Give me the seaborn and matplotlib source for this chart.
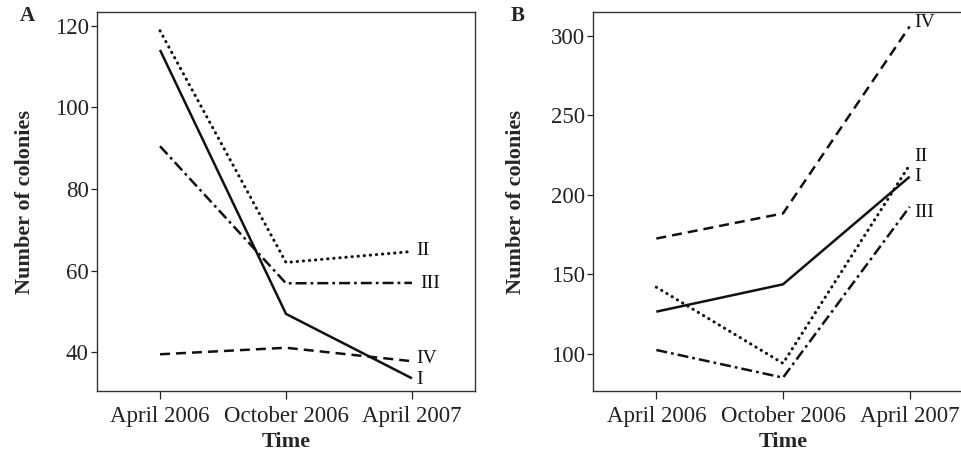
import matplotlib
matplotlib.use("Agg")
import matplotlib.pyplot as plt
import seaborn as sns
import pandas as pd

# ---- data ----
times = ["April 2006", "October 2006", "April 2007"]
sites = ["I", "II", "III", "IV"]
panel_a_I = [114.1, 49.4, 33.6]
panel_a_II = [118.8, 62.0, 64.7]
panel_a_III = [90.5, 56.9, 57.0]
panel_a_IV = [39.5, 41.1, 37.8]
panel_b_I = [126.6, 143.8, 211.5]
panel_b_II = [142.0, 94.1, 218.9]
panel_b_III = [102.5, 85.1, 192.6]
panel_b_IV = [172.6, 188.4, 306.0]
yticks_a = [40, 60, 80, 100, 120]
yticks_b = [100, 150, 200, 250, 300]

sns.set_theme(style="ticks")
plt.rcParams["font.family"] = ["Liberation Serif", "DejaVu Serif"]

styles = {
    "I": dict(dashes=None, cap="butt", lw=1.8),
    "II": dict(dashes=(0.1, 1.9), cap="round", lw=2.2),
    "III": dict(dashes=(4.4, 1.6, 1.1, 1.6), cap="butt", lw=1.8),
    "IV": dict(dashes=(4, 2.4), cap="butt", lw=1.8),
}

W, H = 962, 453
fig = plt.figure(figsize=(W / 100, H / 100), dpi=100)
ax_a = fig.add_axes([97 / W, (H - 391) / H, 378 / W, 379 / H])
ax_b = fig.add_axes([593 / W, (H - 391) / H, 380 / W, 379 / H])

def make_df(vals):
    rows = []
    for s, v in zip(sites, vals):
        for i, y in enumerate(v):
            rows.append(dict(site=s, t=i, n=y))
    return pd.DataFrame(rows)

df_a = make_df([panel_a_I, panel_a_II, panel_a_III, panel_a_IV])
df_b = make_df([panel_b_I, panel_b_II, panel_b_III, panel_b_IV])

def draw(ax, df, ylim, yticks, label_offsets, letter, letter_x, ylpad):
    for s in sites:
        sub = df[df.site == s]
        sns.lineplot(data=sub, x="t", y="n", ax=ax, color="#111111",
                     lw=styles[s]["lw"], legend=False)
        ln = ax.lines[-1]
        if styles[s]["dashes"] is not None:
            ln.set_dashes(styles[s]["dashes"])
        ln.set_dash_capstyle(styles[s]["cap"])
        ln.set_solid_capstyle("butt")
        dx, dy = label_offsets[s]
        ax.annotate(s, xy=(2, sub.n.values[-1]), xytext=(dx, dy),
                    textcoords="offset points", ha="left", va="center",
                    fontsize=14, color="#111111")
    ax.set_xlim(-0.5, 2.5)
    ax.set_ylim(*ylim)
    ax.set_xticks(range(len(times)))
    ax.set_xticklabels(times)
    ax.set_yticks(yticks)
    ax.tick_params(axis="both", labelsize=16.5, colors="#222222",
                   direction="out", width=0.9)
    ax.tick_params(axis="x", length=5.5, pad=5)
    ax.tick_params(axis="y", length=4, pad=2)
    for sp in ax.spines.values():
        sp.set_visible(True)
        sp.set_linewidth(1.0)
        sp.set_color("#333333")
    ax.set_xlabel("Time", fontsize=16, fontweight="bold", labelpad=4)
    ax.set_ylabel("Number of colonies", fontsize=16, fontweight="bold", labelpad=ylpad)
    fig.text(letter_x / W, 1 - 16 / H, letter, fontsize=15, fontweight="bold",
             ha="center", va="center")

draw(ax_a, df_a, (30.5, 123.4), yticks_a,
     {"I": (3, -1), "II": (3, 1), "III": (6, -0.5), "IV": (3, 2), },
     "A", 27, 14)
draw(ax_b, df_b, (76.7, 315.1), yticks_b,
     {"I": (3, 0), "II": (3, 6), "III": (3, -4), "IV": (3, 3)},
     "B", 518, 18)

fig.savefig("out.png", dpi=100)
